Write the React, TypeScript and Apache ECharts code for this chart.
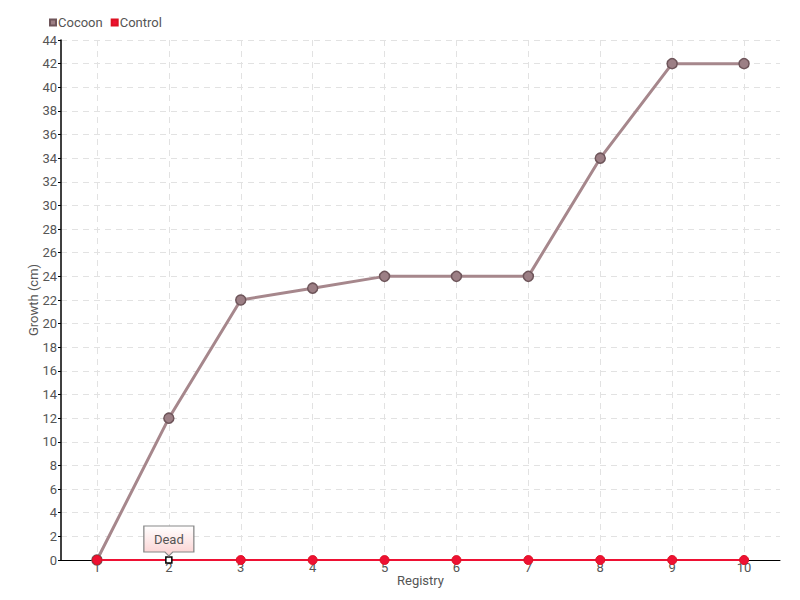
import React, { useEffect, useRef } from "react";
import * as echarts from "echarts";

const categories = ["1", "2", "3", "4", "5", "6", "7", "8", "9", "10"];
const cocoonValues = [0, 12, 22, 23, 24, 24, 24, 34, 42, 42];
const controlValues = [0, 0, 0, 0, 0, 0, 0, 0, 0, 0];
const deadIndex = 1;
const deadLabel = "Dead";

const FONT = "Roboto, 'Liberation Sans Narrow', sans-serif";

export default function App() {
  const ref = useRef<HTMLDivElement>(null);
  useEffect(() => {
    if (!ref.current) return;
    const chart = echarts.init(ref.current, null, { renderer: "svg" });
    const controlData = controlValues.map((v, i) =>
      i === deadIndex
        ? {
            value: v,
            symbol: "rect",
            symbolSize: 6,
            itemStyle: { color: "#ffffff", borderColor: "#000000", borderWidth: 1.5 },
          }
        : v
    );
    chart.setOption({
      animation: false,
      backgroundColor: "#ffffff",
      textStyle: { fontFamily: FONT, color: "#555" },
      legend: {
        left: 44,
        top: 11,
        itemWidth: 6,
        itemHeight: 6,
        itemGap: 8,
        icon: "rect",
        textStyle: { fontFamily: FONT, fontSize: 13, color: "#555", padding: [0, 0, 0, -3] },
        data: ["Cocoon", "Control"],
      },
      grid: { left: 61, right: 20, top: 40, bottom: 40, containLabel: false },
      xAxis: {
        type: "category",
        data: categories,
        name: "Registry",
        nameLocation: "middle",
        nameGap: 14,
        nameMoveOverlap: false,
        nameTextStyle: { fontFamily: FONT, fontSize: 13, color: "#555" },
        axisLine: { lineStyle: { color: "#000", width: 1 } },
        axisTick: { show: false },
        axisLabel: { fontFamily: FONT, fontSize: 13, color: "#555", margin: 1 },
        splitLine: {
          show: true,
          alignWithLabel: true,
          lineStyle: { color: "#e2e2e2", type: [6, 5] },
        } as any,
      } as any,
      yAxis: {
        type: "value",
        min: 0,
        max: 44,
        interval: 2,
        name: "Growth (cm)",
        nameLocation: "middle",
        nameGap: 21,
        nameMoveOverlap: false,
        nameRotate: 90,
        nameTextStyle: { fontFamily: FONT, fontSize: 13, color: "#555" },
        axisLine: { show: true, lineStyle: { color: "#000", width: 1.5 } },
        axisTick: { show: true, length: 3, lineStyle: { color: "#000" } },
        axisLabel: { fontFamily: FONT, fontSize: 13, color: "#555", margin: 4 },
        splitLine: { show: true, lineStyle: { color: "#e2e2e2", type: [6, 5] } },
      } as any,
      series: [
        {
          name: "Cocoon",
          type: "line",
          data: cocoonValues,
          symbol: "circle",
          symbolSize: 10,
          color: "#a6878c",
          lineStyle: { color: "#a6878c", width: 3 },
          itemStyle: { color: "#9c7f85", borderColor: "#6e555a", borderWidth: 1.5 },
          z: 2,
        },
        {
          name: "Control",
          type: "line",
          data: controlData,
          symbol: "circle",
          symbolSize: 9,
          color: "#ee1133",
          lineStyle: { color: "#ee1133", width: 2 },
          itemStyle: { color: "#ee1133", borderColor: "#dd1122", borderWidth: 1 },
          z: 3,
          markPoint: {
            silent: true,
            symbol: "path://M0,0 H50 V26 H29 L25,30 L21,26 H0 Z",
            symbolSize: [50, 30],
            symbolKeepAspect: false,
            symbolOffset: [0, -19],
            itemStyle: {
              color: new echarts.graphic.LinearGradient(0, 0, 0, 1, [
                { offset: 0, color: "#ffffff" },
                { offset: 1, color: "#fbd0d0" },
              ]),
              borderColor: "#888",
              borderWidth: 1,
            },
            label: {
              show: true,
              position: "inside",
              offset: [0, -2],
              formatter: deadLabel,
              color: "#555",
              fontFamily: FONT,
              fontSize: 13,
            },
            data: [{ coord: [deadIndex, controlValues[deadIndex]] }],
          },
        },
      ],
    });
    return () => chart.dispose();
  }, []);
  return <div ref={ref} style={{ width: 800, height: 600, position: "absolute", left: 0, top: 0 }} />;
}
